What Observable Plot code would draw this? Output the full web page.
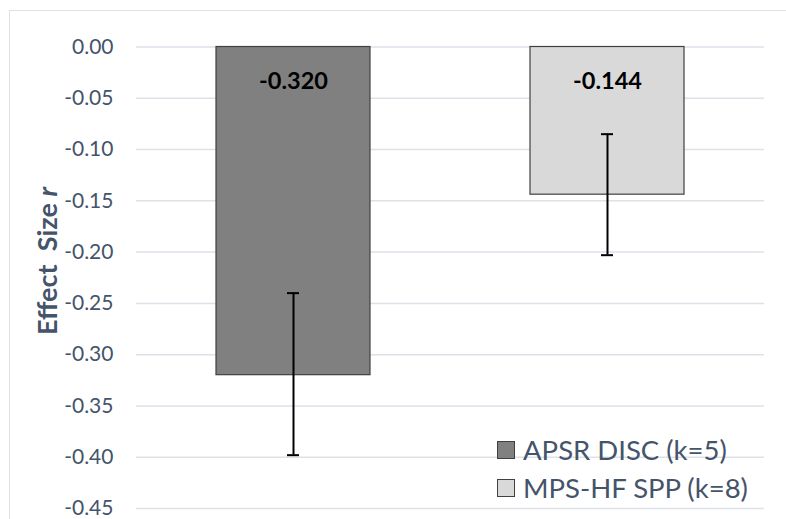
<!DOCTYPE html>
<html>
<head>
<meta charset="utf-8">
<script src="https://cdn.jsdelivr.net/npm/d3@7"></script>
<script src="https://cdn.jsdelivr.net/npm/@observablehq/plot@0.6"></script>
<style>
  html, body { margin: 0; padding: 0; background: #fff; overflow: hidden; }
  #wrap { position: relative; width: 786px; height: 519px; }
  #border { position: absolute; left: 9px; top: 10px; width: 800px; height: 600px; border: 1.5px solid #dfe2e6; box-sizing: border-box; }
  #chart { position: absolute; left: 0; top: 0; }
  #legend { position: absolute; left: 497px; top: 431px; font-family: Lato, sans-serif; font-size: 27.5px; color: #44546a; line-height: 38px; }
  #legend .item { display: flex; align-items: center; white-space: nowrap; height: 38px; }
  #legend .sw { width: 16px; height: 16px; border: 1px solid #404040; margin-right: 8px; flex: none; }
</style>
</head>
<body>
<div id="wrap">
  <div id="border"></div>
  <div id="chart"></div>
  <div id="legend"></div>
</div>
<script>
const categories = ["APSR DISC (k=5)", "MPS-HF SPP (k=8)"];
const effects = [-0.320, -0.144];
const ciLow = [-0.398, -0.203];
const ciHigh = [-0.240, -0.085];
const valueLabels = ["-0.320", "-0.144"];
const barColors = ["#808080", "#d9d9d9"];
const yTicks = [0, -0.05, -0.10, -0.15, -0.20, -0.25, -0.30, -0.35, -0.40, -0.45];
const yTitle = "Effect  Size ";
const yTitleItalic = "r";

const rows = categories.map((c, i) => ({
  cat: c, value: effects[i], lo: ciLow[i], hi: ciHigh[i], label: valueLabels[i], color: barColors[i]
}));

const plot = Plot.plot({
  width: 786,
  height: 519,
  marginLeft: 136,
  marginRight: 22,
  marginTop: 46.5,
  marginBottom: 11,
  style: { fontFamily: "Lato, sans-serif", background: "transparent" },
  x: { domain: categories, paddingInner: 0.51, paddingOuter: 0.255, axis: null },
  y: { domain: [-0.45, 0], ticks: yTicks, label: null },
  marks: [
    Plot.gridY(yTicks, { stroke: "#dde1e8", strokeOpacity: 1, strokeWidth: 1.5 }),
    Plot.axisY(yTicks, {
      tickSize: 0, tickPadding: 23, fontSize: 21, fill: "#44546a",
      tickFormat: d => d === 0 ? "0.00" : d3.format(".2f")(d).replace("−", "-"),
      label: null
    }),
    Plot.barY(rows, { x: "cat", y1: 0, y2: "value", fill: "color", stroke: "#404040", strokeWidth: 1.2 }),
    Plot.ruleX(rows, { x: "cat", y1: "lo", y2: "hi", stroke: "#000", strokeWidth: 2 }),
    Plot.tickY(rows, { x: "cat", y: "lo", stroke: "#000", strokeWidth: 2, insetLeft: 71, insetRight: 71 }),
    Plot.tickY(rows, { x: "cat", y: "hi", stroke: "#000", strokeWidth: 2, insetLeft: 71, insetRight: 71 }),
    Plot.text(rows, { x: "cat", y: () => 0, text: "label", dy: 34, fontSize: 23.5, fontWeight: "bold", fill: "#000" })
  ]
});
document.getElementById("chart").appendChild(plot);

// y-axis title (rotated), with italic r
const svg = d3.select(plot);
const t = svg.append("text")
  .attr("transform", "translate(57,261) rotate(-90)")
  .attr("text-anchor", "middle")
  .attr("font-family", "Lato, sans-serif")
  .attr("font-size", 27)
  .attr("font-weight", "bold")
  .attr("fill", "#44546a");
t.append("tspan").attr("xml:space", "preserve").style("white-space", "pre").text(yTitle);
t.append("tspan").attr("font-style", "italic").text(yTitleItalic);

const legend = d3.select("#legend");
categories.forEach((c, i) => {
  const it = legend.append("div").attr("class", "item");
  it.append("div").attr("class", "sw").style("background", barColors[i]);
  it.append("span").text(c);
});
</script>
</body>
</html>
